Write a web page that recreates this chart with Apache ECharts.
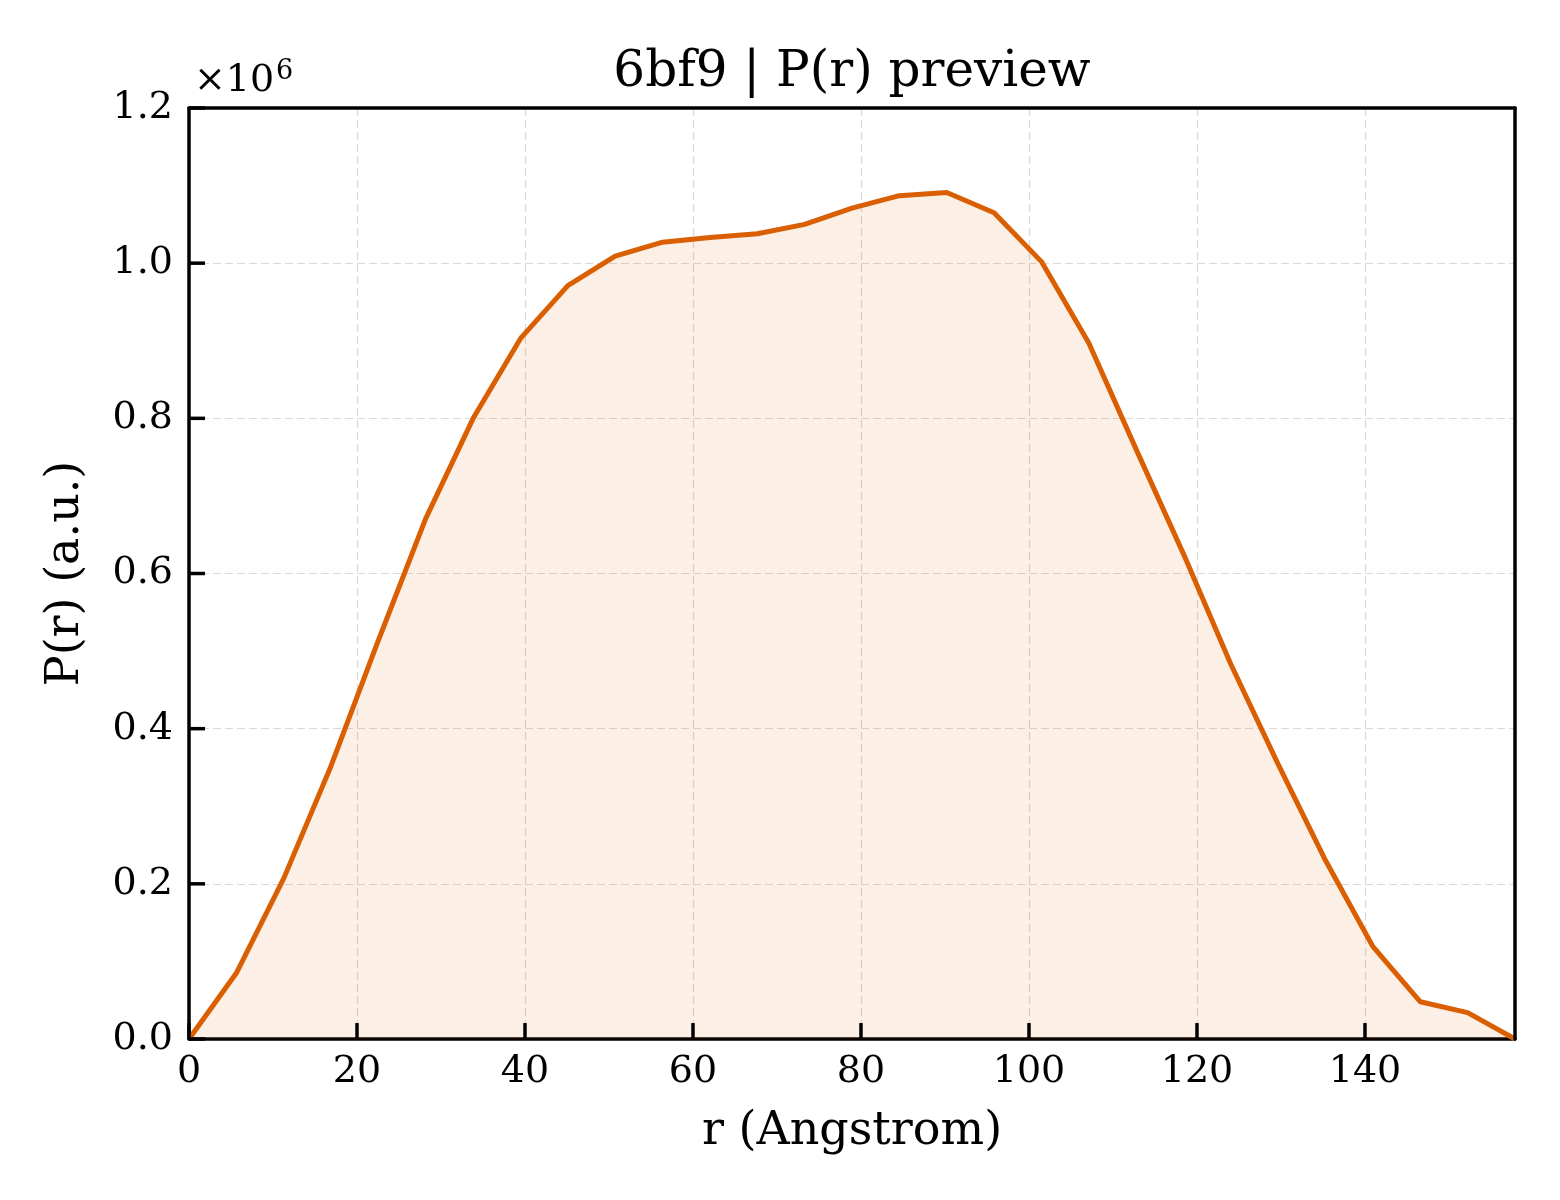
<!DOCTYPE html>
<html>
<head>
<meta charset="utf-8">
<title>6bf9 P(r) preview</title>
<script src="https://cdn.jsdelivr.net/npm/echarts@6/dist/echarts.min.js"></script>
<style>
    html, body { margin: 0; padding: 0; background: #fff; }
    #chart { width: 1560px; height: 1200px; }
</style>
</head>
<body>
<div id="chart"></div>
<script>
// r 取样点 (Angstrom)
let rValues = [0, 5.64, 11.28, 16.91, 22.55, 28.19, 33.83, 39.47, 45.10, 50.74,
    56.38, 62.02, 67.66, 73.29, 78.93, 84.57, 90.21, 95.84, 101.48, 107.12,
    112.76, 118.40, 124.03, 129.67, 135.31, 140.95, 146.59, 152.22, 157.86];
// P(r) 值 (a.u.)
let prValues = [0, 85000, 207000, 352000, 514000, 671000, 800000, 903000, 971000, 1009000,
    1027000, 1033000, 1038000, 1050000, 1071000, 1087000, 1091000, 1065000, 1002000, 897000,
    760000, 625000, 483000, 354000, 230000, 119000, 48000, 34000, 0];
// 刻度
let xTicks = [0, 20, 40, 60, 80, 100, 120, 140];
let yTicks = [0, 0.2, 0.4, 0.6, 0.8, 1.0, 1.2];

let font = 'DejaVu Serif';
let points = rValues.map(function (r, i) {
    return [r, prValues[i]];
});

let myChart = echarts.init(document.getElementById('chart'));
let gridLine = {
    show: true,
    lineStyle: { color: '#d9d9d9', width: 1.2, type: [8, 4] }
};
let spine = { show: true, onZero: false, lineStyle: { color: '#000', width: 3.5 } };
let noPart = { show: false };
let xMax = rValues[rValues.length - 1];
let yMin = yTicks[0] * 1e6;
let yMax = yTicks[yTicks.length - 1] * 1e6;
let yStep = (yTicks[1] - yTicks[0]) * 1e6;
let xStep = xTicks[1] - xTicks[0];
let tickLen = 16;

// 上、右边框
function frameAxis(pos, min, max) {
    return {
        type: 'value', position: pos, min: min, max: max, z: 5,
        axisLine: spine, axisTick: noPart, axisLabel: noPart, splitLine: noPart
    };
}

// 向内的刻度线 (custom 系列, 位置由坐标轴换算)
function tickSeries(data, vertical) {
    return {
        type: 'custom',
        silent: true,
        z: 10,
        clip: false,
        data: data,
        renderItem: function (params, api) {
            let p = api.coord([api.value(0), api.value(1)]);
            let shape = vertical
                ? { x1: p[0], y1: p[1], x2: p[0], y2: p[1] - tickLen }
                : { x1: p[0], y1: p[1], x2: p[0] + tickLen, y2: p[1] };
            return { type: 'line', shape: shape, style: { stroke: '#000', lineWidth: 3.5 } };
        }
    };
}

let option = {
    animation: false,
    backgroundColor: '#fff',
    title: {
        text: '6bf9 | P(r) preview',
        left: 847,
        textAlign: 'center',
        top: 43,
        textStyle: { fontFamily: font, fontSize: 50, fontWeight: 'normal', color: '#000' }
    },
    grid: {
        left: 189, top: 108, width: 1326, height: 931,
        show: false
    },
    xAxis: [{
        type: 'value',
        min: 0,
        max: xMax,
        interval: xStep,
        name: 'r (Angstrom)',
        nameLocation: 'middle',
        nameGap: 70,
        nameTextStyle: { fontFamily: font, fontSize: 46, color: '#000' },
        axisLine: spine,
        axisTick: noPart,
        axisLabel: {
            showMaxLabel: false, margin: 14,
            fontFamily: font, fontSize: 38, color: '#000'
        },
        splitLine: gridLine
    }, frameAxis('top', 0, xMax)],
    yAxis: [{
        type: 'value',
        min: yMin,
        max: yMax,
        interval: yStep,
        name: 'P(r) (a.u.)',
        nameLocation: 'middle',
        nameGap: 100,
        nameTextStyle: { fontFamily: font, fontSize: 46, color: '#000' },
        axisLine: spine,
        axisTick: noPart,
        axisLabel: {
            margin: 16, fontFamily: font, fontSize: 38, color: '#000',
            formatter: function (v) { return (v / 1e6).toFixed(1); }
        },
        splitLine: gridLine
    }, frameAxis('right', yMin, yMax)],
    graphic: [
        {
            type: 'text', left: 194, top: 62,
            style: { text: '×10', fontFamily: font, fontSize: 38, fill: '#000' }
        },
        {
            type: 'text', left: 276, top: 58,
            style: { text: '6', fontFamily: font, fontSize: 27, fill: '#000' }
        }
    ],
    series: [{
        type: 'line',
        data: points,
        showSymbol: false,
        lineStyle: { color: '#D95F02', width: 5 },
        areaStyle: { color: 'rgba(217, 95, 2, 0.14)' }
    },
        tickSeries(xTicks.map(function (v) { return [v, yMin]; }), true),
        tickSeries(yTicks.map(function (v) { return [0, v * 1e6]; }), false)
    ]
};
myChart.setOption(option);
</script>
</body>
</html>
